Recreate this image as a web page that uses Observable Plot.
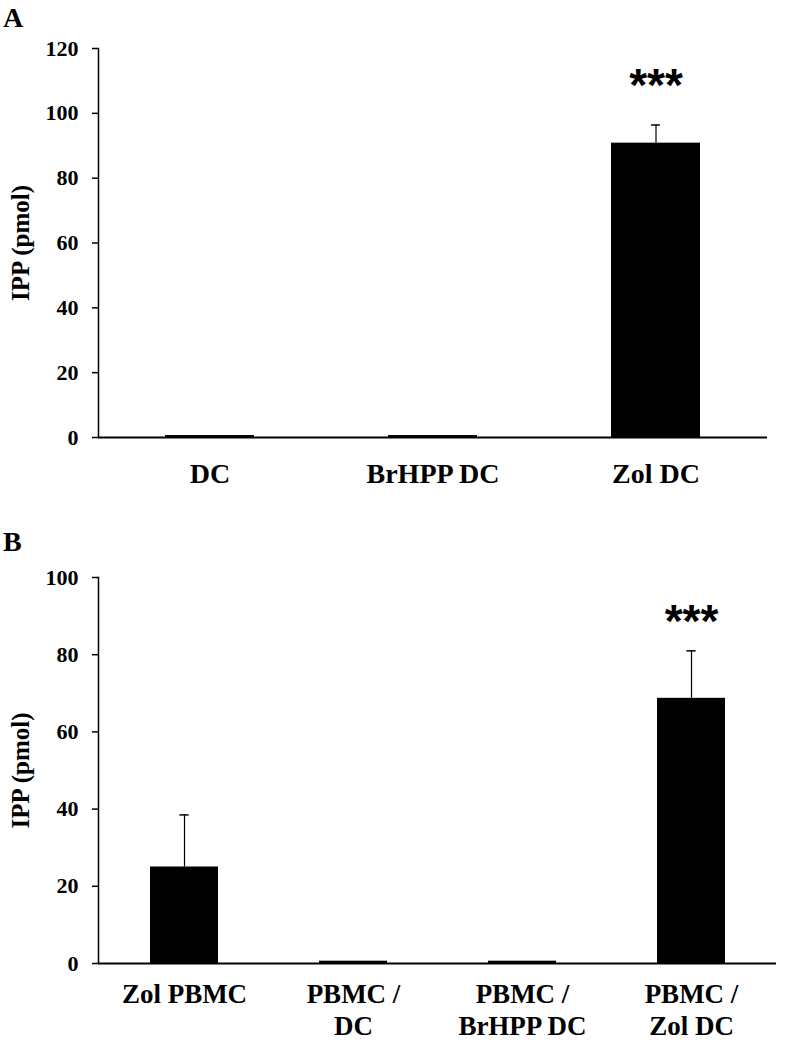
<!DOCTYPE html>
<html>
<head>
<meta charset="utf-8">
<script src="https://cdn.jsdelivr.net/npm/d3@7"></script>
<script src="https://cdn.jsdelivr.net/npm/@observablehq/plot@0.6"></script>
<style>
  html, body { margin: 0; padding: 0; background: white; }
  .panel { position: relative; width: 786px; }
  .letter { position: absolute; left: 3px; font: bold 28px "Liberation Serif", serif; line-height: 28px; color: #000; }
</style>
</head>
<body>
<div class="panel" id="panelA" style="height:500px"><div class="letter" style="top:4px">A</div></div>
<div class="panel" id="panelB" style="height:547px"><div class="letter" style="top:28px">B</div></div>
<script>
// Panel A data
const catsA = ["DC", "BrHPP DC", "Zol DC"];
const meanA = [0.6, 0.6, 90.8];
const errA = [0, 0, 5.6];
const sigA = ["", "", "***"];
const ticksA = [0, 20, 40, 60, 80, 100, 120];

// Panel B data
const catsB = ["Zol PBMC", "PBMC /\nDC", "PBMC /\nBrHPP DC", "PBMC /\nZol DC"];
const meanB = [25.0, 0.6, 0.6, 68.7];
const errB = [13.5, 0, 0, 12.3];
const sigB = ["", "", "", "***"];
const ticksB = [0, 20, 40, 60, 80, 100];

const yLabel = "IPP (pmol)";

function panel({cats, means, errs, sig, ticks, height, marginTop, marginBottom, marginRight, starDy, labelDy, labelFont, lineHeight}) {
  const width = 786, marginLeft = 98;
  const pi = 0.6, po = 0.3;
  const data = cats.map((c, i) => ({cat: c, mean: means[i], err: errs[i], sig: sig[i]}));
  const withErr = data.filter(d => d.err > 0);
  const step = (width - marginLeft - marginRight) / (cats.length - pi + 2 * po);
  const bw = step * (1 - pi);
  const capInset = (bw - 9) / 2;
  return Plot.plot({
    width, height, marginLeft, marginRight, marginTop, marginBottom,
    style: {fontFamily: "'Liberation Serif', serif", fontWeight: "bold", fontSize: "22px", background: "white", color: "black"},
    x: {domain: cats, paddingInner: pi, paddingOuter: po, axis: null},
    y: {domain: [0, ticks[ticks.length - 1]], axis: null},
    marks: [
      Plot.frame({anchor: "left", strokeWidth: 1.5}),
      Plot.axisY({ticks, tickSize: 6, tickPadding: 14, label: null, strokeWidth: 1.5, fontSize: 22, tickFormat: d => String(d)}),
      Plot.barY(data, {x: "cat", y: "mean", fill: "black"}),
      Plot.ruleX(withErr, {x: "cat", y1: "mean", y2: d => d.mean + d.err, stroke: "black", strokeWidth: 1.2}),
      Plot.tickY(withErr, {x: "cat", y: d => d.mean + d.err, stroke: "black", strokeWidth: 1.5, insetLeft: capInset, insetRight: capInset}),
      Plot.ruleY([0], {stroke: "black", strokeWidth: 2}),
      Plot.text(data.filter(d => d.sig), {x: "cat", y: d => d.mean + d.err, text: "sig", dy: starDy, fontSize: 46, fontFamily: "'Liberation Sans', sans-serif", fontWeight: "bold"}),
      Plot.text(cats, {x: d => d, frameAnchor: "bottom", lineAnchor: "top", textAnchor: "middle", dy: labelDy, fontSize: labelFont, lineHeight}),
      Plot.text([yLabel], {frameAnchor: "left", textAnchor: "middle", rotate: -90, dx: -78, fontSize: 25})
    ]
  });
}

document.getElementById("panelA").appendChild(panel({
  cats: catsA, means: meanA, errs: errA, sig: sigA, ticks: ticksA,
  height: 500, marginTop: 48, marginBottom: 63, marginRight: 19, starDy: -39, labelDy: 22, labelFont: 28, lineHeight: 1.2
}));
document.getElementById("panelB").appendChild(panel({
  cats: catsB, means: meanB, errs: errB, sig: sigB, ticks: ticksB,
  height: 547, marginTop: 77, marginBottom: 84, marginRight: 10, starDy: -29, labelDy: 16, labelFont: 27, lineHeight: 1.2
}));
</script>
</body>
</html>
